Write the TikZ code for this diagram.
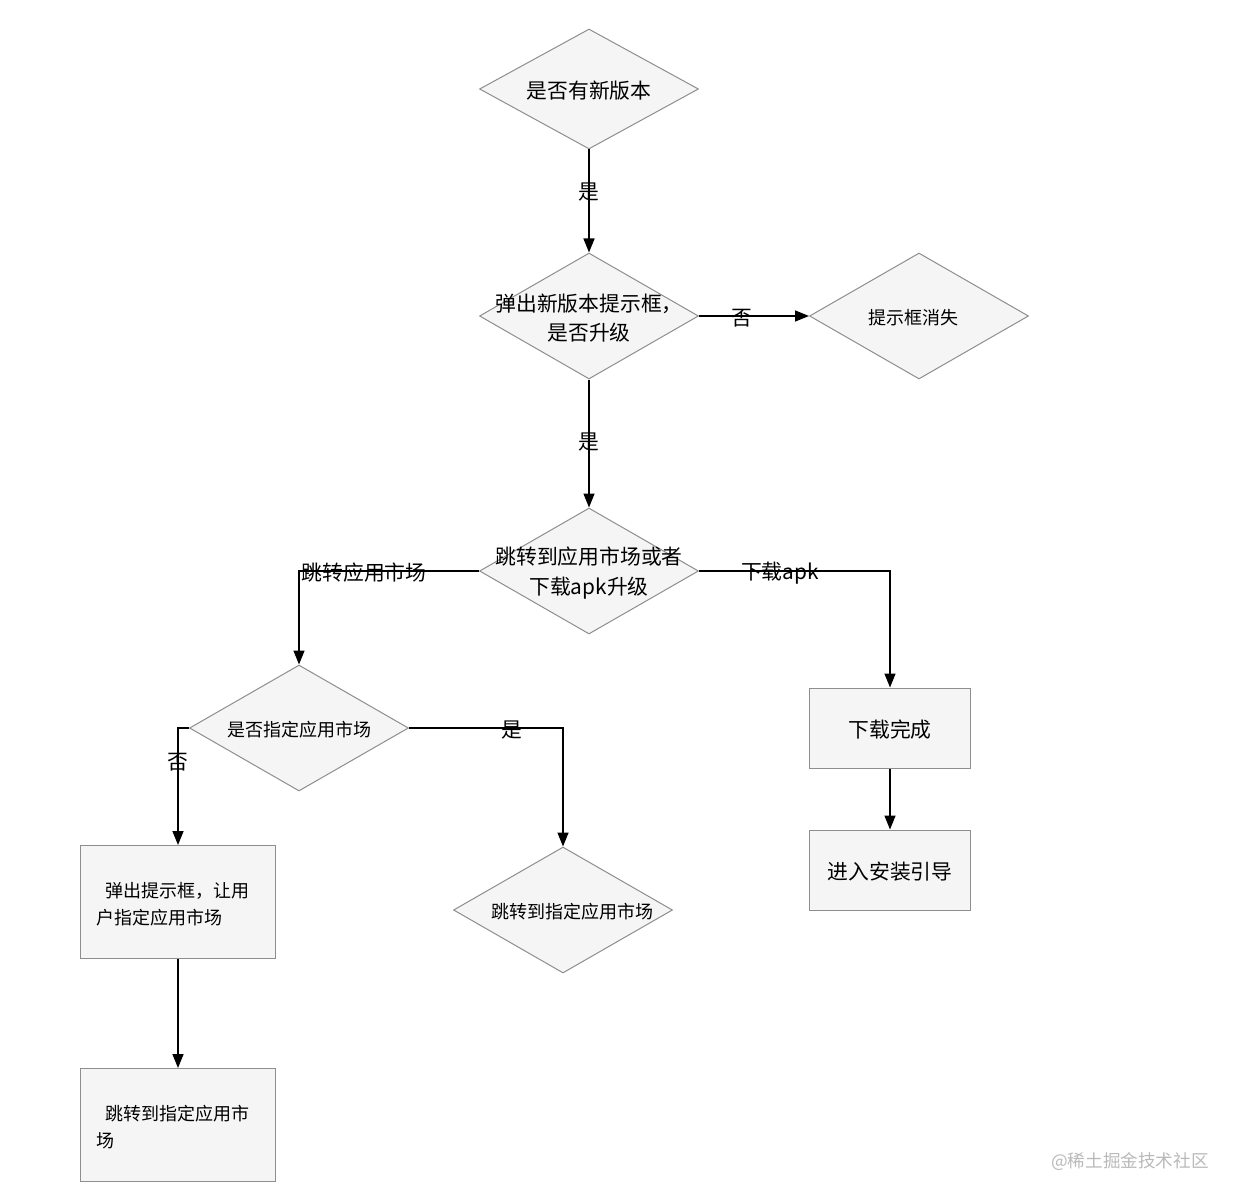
\documentclass[tikz,border=0pt]{standalone}
\usepackage{fontspec}
\setmainfont{Noto Sans CJK SC}
\usetikzlibrary{shapes.geometric,arrows.meta,positioning}
\definecolor{boxfill}{HTML}{F5F5F5}
\definecolor{boxline}{HTML}{8E8E8E}

\begin{document}
\begin{tikzpicture}[x=0.5pt, y=-0.5pt,
        dec/.style={diamond, draw=boxline, fill=boxfill, line width=0.5pt,
                    inner sep=0pt, minimum width=109.5pt, minimum height=63pt},
        proc/.style={rectangle, draw=boxline, fill=boxfill, line width=0.5pt,
                     inner sep=0pt, minimum width=80.5pt, minimum height=40pt},
        tall/.style={proc, minimum width=97.5pt, minimum height=56.5pt},
        big/.style={font=\fontsize{10.4}{14.8}\selectfont, align=center, inner sep=0pt, yshift=-1pt},
        small/.style={font=\fontsize{9}{13.5}\selectfont, align=center, inner sep=0pt, yshift=-1pt},
        arr/.style={-{Triangle[length=7pt, width=5.5pt]}, line width=0.75pt},
        elbl/.style={font=\fontsize{10.4}{12}\selectfont, inner sep=0pt, yshift=-1pt}]
        \useasboundingbox (0,0) rectangle (1240,1203);
        % decisions
        \node[dec, minimum height=60pt, label={[big]center:是否有新版本}] (ask)    at (589,89)  {};
        \node[dec, label={[big]center:弹出新版本提示框，\\是否升级}]       (prompt) at (589,316) {};
        \node[dec, label={[small, xshift=-3pt]center:提示框消失}]          (hide)   at (919,316) {};
        \node[dec, label={[big]center:跳转到应用市场或者\\下载apk升级}]    (way)    at (589,571) {};
        \node[dec, label={[small]center:是否指定应用市场}]                 (given)  at (299,728) {};
        \node[dec, label={[small, xshift=4.5pt]center:跳转到指定应用市场}] (jump)   at (563,910) {};
        % steps
        \node[proc] (done)    at (890,728)  {};
        \node[big]  at (done)  {下载完成};
        \node[proc] (install) at (890,870)  {};
        \node[big]  at (install) {进入安装引导};
        \node[tall] (choose)  at (178,902)  {};
        \node[small, align=left] at (173,902) {\hspace{0.45em}弹出提示框，让用\\户指定应用市场};
        \node[tall] (market)  at (178,1125) {};
        \node[small, align=left] at (173,1125) {\hspace{0.45em}跳转到指定应用市\\场};
        % connectors
        \draw[arr] (ask.south)    -- (prompt.north);
        \draw[arr] (prompt.south) -- (way.north);
        \draw[arr] (prompt.east)  -- (hide.west);
        \draw[arr] (way.west)     -| (given.north);
        \draw[arr] (way.east)     -| (done.north);
        \draw[arr] (given.west)   -| (choose.north);
        \draw[arr] (given.east)   -| (jump.north);
        \draw[arr] (done)         -- (install);
        \draw[arr] (choose)       -- (market);
        % edge labels
        \node[elbl] (yes1) at (589,190) {是};
        \node[elbl] (yes2) at (589,440) {是};
        \node[elbl] (no1)  at (742,316) {否};
        \node[elbl] (toapp) at (364,571) {跳转应用市场};
        \node[elbl] (toapk) at (780,571) {下载apk};
        \node[elbl] (no2)  at (178,760) {否};
        \node[elbl] (yes3) at (512,728) {是};
        \node[font=\fontsize{8.8}{10}\selectfont, text=gray!55, inner sep=0pt] (wm) at (1130,1162) {@稀土掘金技术社区};
    \end{tikzpicture}
\end{document}
